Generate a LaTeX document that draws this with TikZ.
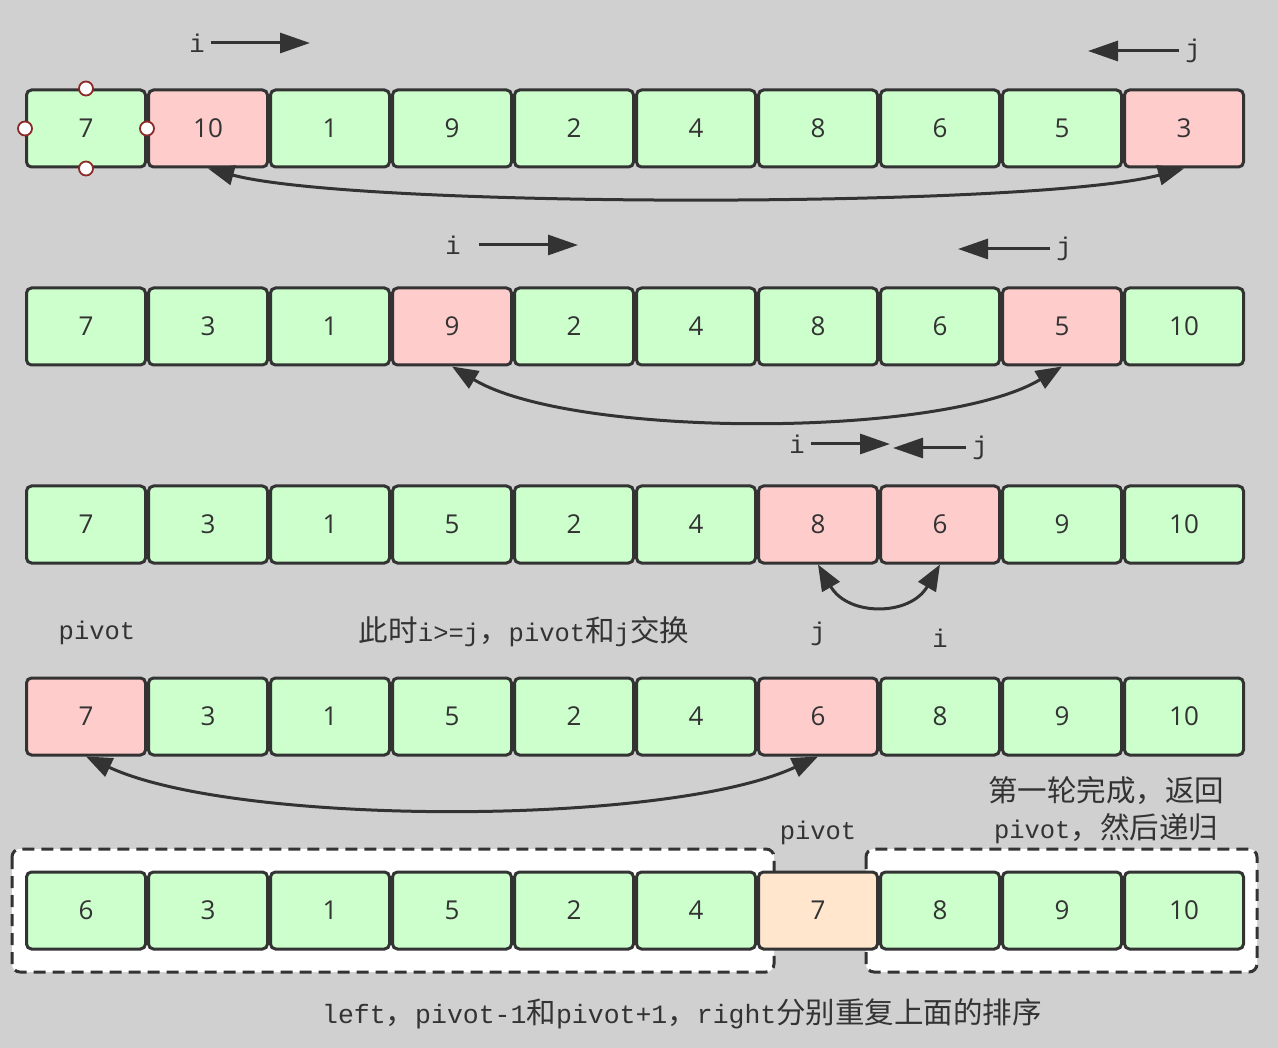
\documentclass[tikz,border=0pt]{standalone}
\usepackage{fontspec}
\setmainfont{Liberation Mono}
\newfontfamily\cjk{Noto Sans CJK SC}
\newfontfamily\numfont{Open Sans}
\usetikzlibrary{arrows.meta}
\definecolor{bgc}{RGB}{208,208,208}
\definecolor{cgreen}{RGB}{204,255,204}
\definecolor{cred}{RGB}{255,204,204}
\definecolor{cpeach}{RGB}{255,230,204}
\definecolor{ink}{RGB}{51,51,51}
\definecolor{handle}{RGB}{140,40,40}
\newcommand\zh[1]{{\cjk\fontsize{29.5}{30}\selectfont #1}}
\tikzset{
  cell/.style={draw=ink, line width=3pt, rounded corners=5pt, minimum width=119pt,
    minimum height=77pt, inner sep=0pt, text=ink, font=\numfont\fontsize{26}{26}\selectfont},
  gc/.style={cell, fill=cgreen},
  rc/.style={cell, fill=cred},
  oc/.style={cell, fill=cpeach},
  lbl/.style={inner sep=0pt, text=ink, font=\fontsize{25.5}{30}\selectfont},
  ptr/.style={draw=ink, line width=3pt, shorten <=6pt, -{Triangle[length=30pt,width=20pt]}},
  swapline/.style={draw=ink, line width=3pt,
    {Triangle[length=26pt,width=20pt]}-{Triangle[length=26pt,width=20pt]}},
  dashbox/.style={draw=ink, fill=white, line width=3pt, dash pattern=on 12pt off 7pt, rounded corners=8pt},
  hnd/.style={circle, draw=handle, fill=white, line width=1.8pt, minimum size=14pt, inner sep=0pt}
}
\begin{document}
\begin{tikzpicture}[x=1pt,y=-1pt]
\fill[bgc] (0,0) rectangle (1278,1048);
\useasboundingbox (0,0) rectangle (1278,1048);

% row 1
\foreach \v/\s [count=\k] in {7/gc,10/rc,1/gc,9/gc,2/gc,4/gc,8/gc,6/gc,5/gc,3/rc}
  \node[\s] (r1c\k) at ({86+122*(\k-1)},128.5) {\v};
\node[hnd] (h1) at (r1c1.north) {};
\node[hnd] (h2) at (r1c1.west) {};
\node[hnd] (h3) at (r1c1.east) {};
\node[hnd] (h4) at (r1c1.south) {};
\node[lbl] (i1) at (197,43) {i};
\coordinate (i1t) at (310,43);
\draw[ptr] (i1.east) -- (i1t);
\node[lbl] (j1) at (1193,51) {j};
\coordinate (j1t) at (1088,51);
\draw[ptr] (j1.west) -- (j1t);
\draw[swapline] (r1c2.south) .. controls +(150,40) and +(-150,40) .. (r1c10.south);

% row 2
\foreach \v/\s [count=\k] in {7/gc,3/gc,1/gc,9/rc,2/gc,4/gc,8/gc,6/gc,5/rc,10/gc}
  \node[\s] (r2c\k) at ({86+122*(\k-1)},326.5) {\v};
\node[lbl] (i2) at (453,245) {i};
\coordinate (i2t) at (578,245);
\draw[ptr, shorten <=18pt] (i2.east) -- (i2t);
\node[lbl] (j2) at (1064,249) {j};
\coordinate (j2t) at (958,249);
\draw[ptr] (j2.west) -- (j2t);
\draw[swapline] (r2c4.south) .. controls +(120,72) and +(-120,72) .. (r2c9.south);

% row 3
\foreach \v/\s [count=\k] in {7/gc,3/gc,1/gc,5/gc,2/gc,4/gc,8/rc,6/rc,9/gc,10/gc}
  \node[\s] (r3c\k) at ({86+122*(\k-1)},524.5) {\v};
\node[lbl] (i3) at (797,444) {i};
\coordinate (i3t) at (890,444);
\draw[ptr] (i3.east) -- (i3t);
\node[lbl] (j3) at (980,448) {j};
\coordinate (j3t) at (893,448);
\draw[ptr] (j3.west) -- (j3t);
\draw[swapline] (r3c7.south) .. controls +(30,52) and +(-30,52) .. (r3c8.south);

% labels between row 3 and row 4
\node[lbl] (pv1) at (97,633) {pivot};
\node[lbl] (msg1) at (524,632) {\zh{此时}i>=j\zh{，}pivot\zh{和}j\zh{交换}};
\node[lbl] (j4) at (818,634) {j};
\node[lbl] (i4) at (940,638) {i};

% row 4
\foreach \v/\s [count=\k] in {7/rc,3/gc,1/gc,5/gc,2/gc,4/gc,6/rc,8/gc,9/gc,10/gc}
  \node[\s] (r4c\k) at ({86+122*(\k-1)},716.5) {\v};
\draw[swapline] (r4c1.south) .. controls +(150,70) and +(-150,70) .. (r4c7.south);

\node[lbl] (t1) at (1106,791) {\zh{第一轮完成，返回}};
\node[lbl] (t2) at (1106,829) {pivot\zh{，然后递归}};
\node[lbl] (pv2) at (818,833) {pivot};

% row 5
\draw[dashbox] (12,849) rectangle (774,972);
\draw[dashbox] (866,849) rectangle (1257,972);
\foreach \v/\s [count=\k] in {6/gc,3/gc,1/gc,5/gc,2/gc,4/gc,7/oc,8/gc,9/gc,10/gc}
  \node[\s] (r5c\k) at ({86+122*(\k-1)},910.5) {\v};

\node[lbl, font=\fontsize{26.5}{30}\selectfont] (bot) at (682,1014) {left\zh{，}pivot-1\zh{和}pivot+1\zh{，}right\zh{分别重复上面的排序}};
\end{tikzpicture}
\end{document}
